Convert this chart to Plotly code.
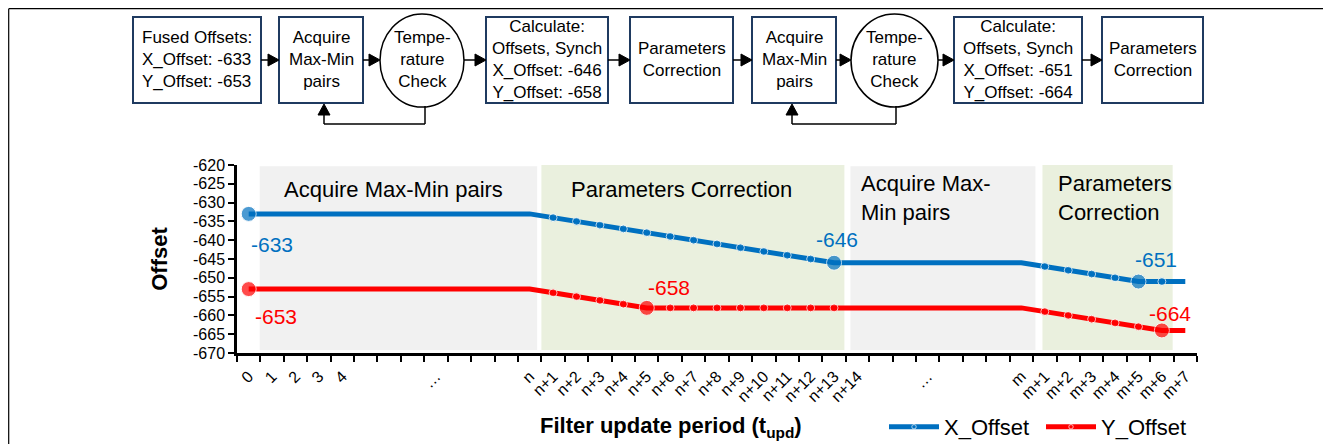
import plotly.graph_objects as go

# ---------------- data ----------------
x_labels = ["0", "1", "2", "3", "4", "", "", "", "…", "", "", "", "n",
            "n+1", "n+2", "n+3", "n+4", "n+5", "n+6", "n+7", "n+8", "n+9",
            "n+10", "n+11", "n+12", "n+13", "n+14",
            "", "", "…", "", "", "", "m",
            "m+1", "m+2", "m+3", "m+4", "m+5", "m+6", "m+7"]

x_offset = [-633, -633, -633, -633, -633, -633, -633, -633, -633, -633, -633, -633, -633,
            -634, -635, -636, -637, -638, -639, -640, -641, -642, -643, -644, -645, -646,
            -646, -646, -646, -646, -646, -646, -646, -646,
            -647, -648, -649, -650, -651,
            -651, -651]

y_offset = [-653, -653, -653, -653, -653, -653, -653, -653, -653, -653, -653, -653, -653,
            -654, -655, -656, -657, -658,
            -658, -658, -658, -658, -658, -658, -658, -658,
            -658, -658, -658, -658, -658, -658, -658, -658,
            -659, -660, -661, -662, -663, -664,
            -664]

# marker kind per point: 0 = none, 1 = small, 2 = highlighted
x_marks = [2, 0, 0, 0, 0, 0, 0, 0, 0, 0, 0, 0, 0,
           1, 1, 1, 1, 1, 1, 1, 1, 1, 1, 1, 1, 2,
           0, 0, 0, 0, 0, 0, 0, 0,
           1, 1, 1, 1, 2,
           1, 0]
y_marks = [2, 0, 0, 0, 0, 0, 0, 0, 0, 0, 0, 0, 0,
           1, 1, 1, 1, 2,
           1, 1, 1, 1, 1, 1, 1, 1,
           0, 0, 0, 0, 0, 0, 0, 0,
           1, 1, 1, 1, 1, 2,
           0]

y_tick_values = [-670, -665, -660, -655, -650, -645, -640, -635, -630, -625, -620]
y_tick_labels = ["-670", "-665", "-660", "-655", "-650", "-645", "-640", "-635", "-630", "-625", "-620"]

# phases shown as shaded bands (category units)
phase_names = ["Acquire Max-Min pairs", "Parameters Correction", "Acquire Max-<br>Min pairs", "Parameters<br>Correction"]
phase_start = [0.47, 12.5, 25.7, 33.9]
phase_end = [12.32, 25.44, 33.6, 39.46]
phase_kind = ["acquire", "correct", "acquire", "correct"]

# highlighted values: (series, index)
highlight_points = [("x", 0), ("y", 0), ("y", 17), ("x", 25), ("x", 38), ("y", 39)]

# ---------------- styles ----------------
FONT = "Liberation Sans, Arial, sans-serif"
BLUE = "#0070C0"
RED = "#FF0000"
BAND = {"acquire": "#F1F1F1", "correct": "#EAF0DE"}
BODY = 8                      # default page margin of the html body
W, H = 1331 - BODY, 444 - BODY
PLOT_L, PLOT_R, PLOT_T, PLOT_B = 237, 1197, 165, 353   # plot area in window pixels
ML, MT = PLOT_L - BODY, PLOT_T - BODY
MR, MB = W - (PLOT_R - BODY), H - (PLOT_B - BODY)
PW, PH = PLOT_R - PLOT_L, PLOT_B - PLOT_T
SIZE = {0: 0, 1: 8, 2: 15}


def pxx(v):
    return (v - PLOT_L) / PW


def pxy(v):
    return (PLOT_B - v) / PH


fig = go.Figure()
idx = list(range(len(x_labels)))
fig.add_trace(go.Scatter(x=idx, y=x_offset, name="X_Offset", mode="lines+markers",
                         line=dict(color=BLUE, width=5),
                         marker=dict(color=BLUE, size=[SIZE[m] for m in x_marks])))
fig.add_trace(go.Scatter(x=idx, y=y_offset, name="Y_Offset", mode="lines+markers",
                         line=dict(color=RED, width=5),
                         marker=dict(color=RED, size=[SIZE[m] for m in y_marks])))

shapes = []
annotations = []

# shaded phase bands
for name, s, e, k in zip(phase_names, phase_start, phase_end, phase_kind):
    top = -620.0 if k == "correct" else -620.3
    bot = -669.2
    shapes.append(dict(type="rect", xref="x", yref="y", x0=s, x1=e, y0=bot, y1=top,
                       fillcolor=BAND[k], line=dict(width=0), layer="below"))

# phase labels
phase_label_pos = [(6.18, -626.4, "center"), (18.48, -626.4, "center"),
                   (26.08, -628.9, "left"), (34.46, -628.9, "left")]
for name, (lx, ly, anc) in zip(phase_names, phase_label_pos):
    annotations.append(dict(x=lx, y=ly, xref="x", yref="y", text=name, showarrow=False,
                            xanchor=anc, yanchor="middle", align="left",
                            font=dict(family=FONT, size=22, color="black")))

# value labels
label_offsets = [("left", 0, -31), ("left", 4, -27), ("left", -1, 20),
                 ("center", 3, 23), ("left", -5, 22), ("left", -15, 17)]
for (ser, i), (anc, xs, ys) in zip(highlight_points, label_offsets):
    vals = x_offset if ser == "x" else y_offset
    col = BLUE if ser == "x" else RED
    annotations.append(dict(x=i, y=vals[i], xref="x", yref="y", text=str(vals[i]),
                            showarrow=False, xanchor=anc, yanchor="middle",
                            xshift=xs, yshift=ys,
                            font=dict(family=FONT, size=21, color=col)))

# x axis title
annotations.append(dict(x=pxx(671), y=pxy(427), xref="paper", yref="paper",
                        text="<b>Filter update period (t<sub>upd</sub>)</b>", showarrow=False,
                        xanchor="center", yanchor="middle",
                        font=dict(family=FONT, size=22, color="black")))

# ---------------- flow chart ----------------
NAVY = "#1F3A60"
boxes = [
    (133, 261, "Fused Offsets:<br>X_Offset: -633<br>Y_Offset: -653", "box"),
    (279, 363, "Acquire<br>Max-Min<br>pairs", "box"),
    (380, 464, "Tempe-<br>rature<br>Check", "circle"),
    (486, 608, "Calculate:<br>Offsets, Synch<br>X_Offset: -646<br>Y_Offset: -658", "box"),
    (630, 733, "Parameters<br>Correction", "box"),
    (752, 836, "Acquire<br>Max-Min<br>pairs", "box"),
    (851, 938, "Tempe-<br>rature<br>Check", "circle"),
    (954, 1082, "Calculate:<br>Offsets, Synch<br>X_Offset: -651<br>Y_Offset: -664", "box"),
    (1102, 1203, "Parameters<br>Correction", "box"),
]
BT, BB, CY = 17, 103, 60
for x0, x1, txt, kind in boxes:
    if kind == "box":
        shapes.append(dict(type="rect", xref="paper", yref="paper", x0=pxx(x0), x1=pxx(x1),
                           y0=pxy(BB), y1=pxy(BT), line=dict(color=NAVY, width=2),
                           fillcolor="white"))
    else:
        shapes.append(dict(type="circle", xref="paper", yref="paper", x0=pxx(x0), x1=pxx(x1),
                           y0=pxy(107), y1=pxy(14), line=dict(color="black", width=1.5),
                           fillcolor="white"))
    annotations.append(dict(x=pxx((x0 + x1) / 2), y=pxy(CY), xref="paper", yref="paper",
                            text=txt, showarrow=False, xanchor="center", yanchor="middle",
                            align="left" if txt.startswith("Fused") else "center",
                            font=dict(family=FONT, size=17, color="black")))


def line_seg(xa, ya, xb, yb):
    shapes.append(dict(type="line", xref="paper", yref="paper", x0=pxx(xa), y0=pxy(ya),
                       x1=pxx(xb), y1=pxy(yb), line=dict(color="black", width=1.5)))


def head(tx, ty, direction):
    L, Hh = 11, 6
    if direction == "right":
        pts = [(tx, ty), (tx - L, ty - Hh), (tx - L, ty + Hh)]
    else:  # up
        pts = [(tx, ty), (tx - Hh, ty + L), (tx + Hh, ty + L)]
    path = "M " + " L ".join(f"{pxx(a)},{pxy(b)}" for a, b in pts) + " Z"
    shapes.append(dict(type="path", xref="paper", yref="paper", path=path,
                       fillcolor="black", line=dict(color="black", width=1)))


for (a0, a1, _, _), (b0, b1, _, _) in zip(boxes[:-1], boxes[1:]):
    line_seg(a1, CY, b0 - 4, CY)
    head(b0, CY, "right")

for cx, bx in [(425, 324), (896, 792)]:
    line_seg(cx, 106, cx, 124)
    line_seg(cx, 124, bx, 124)
    line_seg(bx, 124, bx, 108)
    head(bx, BB + 1, "up")

# outer frame (left, top, right)
for xa, ya, xb, yb in [(8.7, 8.7, 8.7, 450), (8.7, 8.7, 1329, 8.7), (1329, 8.7, 1329, 450)]:
    shapes.append(dict(type="line", xref="paper", yref="paper", x0=pxx(xa), y0=pxy(ya),
                       x1=pxx(xb), y1=pxy(yb), line=dict(color="black", width=1.2)))

fig.update_layout(
    width=W, height=H,
    margin=dict(l=ML, r=MR, t=MT, b=MB, autoexpand=False),
    paper_bgcolor="white", plot_bgcolor="white",
    font=dict(family=FONT, color="black"),
    showlegend=True,
    legend=dict(orientation="h", x=pxx(884), y=pxy(427), xanchor="left", yanchor="middle",
                font=dict(family=FONT, size=22, color="black"), bgcolor="rgba(0,0,0,0)",
                itemwidth=50, entrywidth=92, traceorder="normal"),
    shapes=shapes,
    annotations=annotations,
    xaxis=dict(range=[-0.5, 40.5], tickmode="array", tickvals=idx, ticktext=x_labels,
               tickangle=-45, ticks="", showgrid=False, zeroline=False,
               showline=True, linecolor="black", linewidth=2.5,
               tickfont=dict(family=FONT, size=16, color="black"),
               ticklabelstandoff=5,
               minor=dict(ticks="outside", tick0=-0.5, dtick=1, ticklen=6, tickwidth=2,
                          tickcolor="black", showgrid=False)),
    yaxis=dict(range=[-670, -620], tickmode="array", tickvals=y_tick_values,
               ticktext=y_tick_labels, ticks="outside", ticklen=6, tickwidth=2,
               tickcolor="black", showgrid=False, zeroline=False,
               showline=True, linecolor="black", linewidth=2.5,
               tickfont=dict(family=FONT, size=16, color="black"),
               title=dict(text="<b>Offset</b>", standoff=20,
                          font=dict(family=FONT, size=22, color="black"))),
)

fig.write_html("out.html")
